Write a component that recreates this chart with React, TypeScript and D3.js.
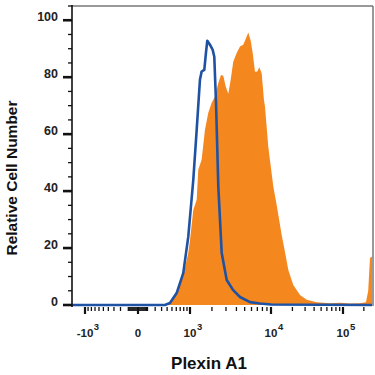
import React from "react";
import * as d3 from "d3";

// Isotype control (blue outline) – fluorescence value vs relative count
const isoX = [-1500, 360, 457, 609, 786, 941, 1117, 1249, 1387, 1462, 1589, 1672, 1740, 1886, 2045, 2144, 2255, 2410, 2655, 3058, 3640, 4407, 5764, 7505, 10000, 262144];
const isoY = [0, 0, 0.7, 4.2, 11.2, 23.9, 43.9, 61.5, 79.1, 82, 82.6, 88.6, 92.8, 91.4, 89.6, 87.2, 71, 41.5, 18.3, 8.8, 5.3, 2.8, 1, 0.5, 0.2, 0];

// Plexin A1 antibody (orange filled)
const abX = [-1500, 400, 457, 609, 786, 941, 1000, 1117, 1249, 1315, 1462, 1622, 1794, 1985, 2187, 2410, 2601, 2778, 2972, 3198, 3417, 3672, 4031, 4407, 4817, 5180, 5513, 5875, 6195, 6583, 6993, 7374, 7845, 8327, 8550, 9320, 10000, 10785, 12030, 14150, 15750, 17540, 20570, 25500, 31600, 43440, 66300, 91000, 126200, 175900, 214500, 231300, 245000, 262144];
const abY = [0, 0, 0.5, 4.5, 10.2, 18.3, 22.8, 33.4, 37, 47.5, 51, 61.5, 67.5, 71, 73.2, 78, 80.8, 80.5, 76.7, 74.2, 79.1, 85.5, 88.5, 90.8, 91.4, 93.7, 95.7, 92.8, 88.5, 81.9, 82, 83.5, 81.4, 72, 69.7, 55.6, 48, 41.6, 35.1, 24.6, 18.6, 12.3, 7, 3.5, 1.8, 1, 0.6, 0.8, 0.5, 0.6, 1, 5, 16.5, 17];

const yMajor = [0, 20, 40, 60, 80, 100];
const xMajor = [-1000, 0, 1000, 10000, 100000];
const xMajorBase = ["-10", "0", "10", "10", "10"];
const xMajorExp = ["3", "", "3", "4", "5"];

const W = 375, H = 375;
const left = 72, right = 372, top = 6, bottom = 305;

export default function App() {
  const x = d3
    .scaleSymlog()
    .constant(370)
    .domain([-1500, -1000, 0, 1000, 10000, 100000, 262144])
    .range([left, 85, 138, 190, 271, 343, right]);
  const y = d3.scaleLinear().domain([0, 105]).range([bottom, top]);

  const yMinor = d3.range(0, 106, 5).filter((v) => v % 20 !== 0);
  const xMinor: number[] = [];
  for (let n = 1; n <= 5; n++) {
    for (let k = 1; k <= 9; k++) {
      const v = k * Math.pow(10, n);
      if (n >= 3 && k === 1) continue;
      if (v <= 262144) xMinor.push(v);
      if (n <= 2) xMinor.push(-v);
    }
  }

  const iso = isoX.map((v, i) => [v, isoY[i]] as [number, number]);
  const ab = abX.map((v, i) => [v, abY[i]] as [number, number]);

  const area = d3
    .area<[number, number]>()
    .x((d) => x(d[0]))
    .y0(y(0))
    .y1((d) => y(d[1]));
  const line = d3
    .line<[number, number]>()
    .x((d) => x(d[0]))
    .y((d) => y(d[1]));

  const font = "'Liberation Sans', Arial, sans-serif";

  return (
    <svg
      width={W}
      height={H}
      style={{ position: "absolute", left: 0, top: 0, background: "#fff" }}
      fontFamily={font}
    >
      <path d={area(ab) || ""} fill="#f5871f" />
      <path d={line(iso) || ""} fill="none" stroke="#1f52a3" strokeWidth={2.6} strokeLinejoin="round" />
      {/* frame */}
      <line x1={left} x2={right + 1} y1={top} y2={top} stroke="#777" strokeWidth={1.5} />
      <line x1={right + 1} x2={right + 1} y1={top} y2={bottom + 1} stroke="#777" strokeWidth={1.5} />
      <line x1={left} x2={left} y1={top - 1} y2={bottom + 2} stroke="#111" strokeWidth={1.6} />
      {/* y ticks */}
      {yMinor.map((v) => (
        <line key={"ym" + v} x1={left - 4} x2={left} y1={y(v)} y2={y(v)} stroke="#111" strokeWidth={1.3} />
      ))}
      {yMajor.map((v) => (
        <g key={"yM" + v}>
          <line x1={left - 9} x2={left} y1={y(v)} y2={y(v)} stroke="#111" strokeWidth={2.6} />
          <text x={58} y={y(v)} dy="0.1em" textAnchor="end" fontSize={12.5} fontWeight="bold" fill="#222">
            {v}
          </text>
        </g>
      ))}
      {/* x ticks */}
      {xMinor.map((v) => (
        <line key={"xm" + v} x1={x(v)} x2={x(v)} y1={bottom + 2} y2={bottom + 6} stroke="#111" strokeWidth={1.3} />
      ))}
      {xMajor.map((v, i) => {
        const base = xMajorBase[i];
        const w = base.length * 6.4 - (base.startsWith("-") ? 2.5 : 0);
        return (
          <g key={"xM" + v}>
            <line x1={x(v)} x2={x(v)} y1={bottom + 2} y2={bottom + 9} stroke="#111" strokeWidth={2.2} />
            <text x={x(v)} y={337} textAnchor="middle" fontSize={11.5} fontWeight="bold" fill="#222">
              {base}
            </text>
            {xMajorExp[i] && (
              <text x={x(v) + w / 2 + 0.5} y={330} fontSize={9.5} fontWeight="bold" fill="#222">
                {xMajorExp[i]}
              </text>
            )}
          </g>
        );
      })}
      <text x={209} y={369} textAnchor="middle" fontSize={17} fontWeight="bold" fill="#111">
        Plexin A1
      </text>
      <text
        transform={`translate(17,178) rotate(-90)`}
        textAnchor="middle"
        fontSize={15.5}
        fontWeight="bold"
        fill="#111"
      >
        Relative Cell Number
      </text>
    </svg>
  );
}
